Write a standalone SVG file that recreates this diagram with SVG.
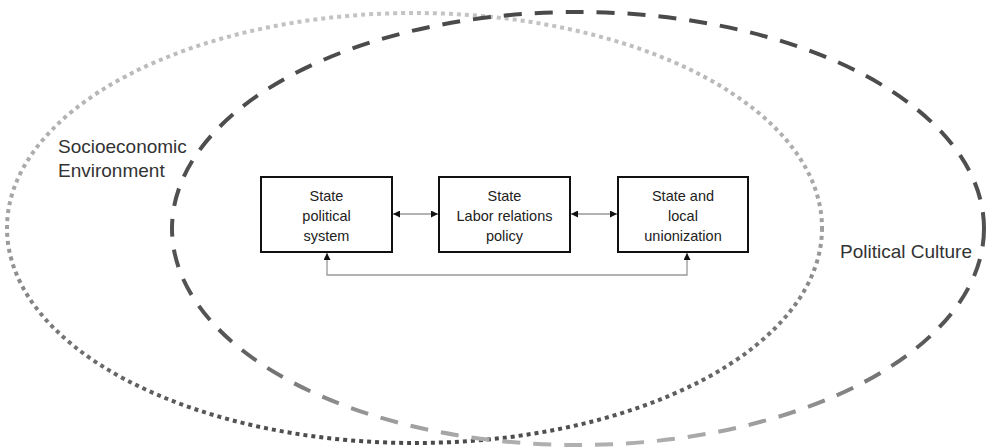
<svg xmlns="http://www.w3.org/2000/svg" width="987" height="448" viewBox="0 0 987 448">
<defs>
<linearGradient id="gDot" x1="0" y1="0" x2="0" y2="1">
<stop offset="0" stop-color="#c4c4c4"/>
<stop offset="0.5" stop-color="#a0a0a0"/>
<stop offset="1" stop-color="#4a4a4a"/>
</linearGradient>
<linearGradient id="gDash" x1="0" y1="0" x2="0" y2="1">
<stop offset="0" stop-color="#4a4a4a"/>
<stop offset="0.75" stop-color="#555555"/>
<stop offset="1" stop-color="#b0b0b0"/>
</linearGradient>
<marker id="ah" viewBox="0 0 10 10" refX="10" refY="5" markerWidth="7" markerHeight="7" markerUnits="userSpaceOnUse" orient="auto-start-reverse">
<path d="M0,0 L10,5 L0,10 z" fill="#111"/>
</marker>
<style>
.box{fill:#fff;stroke:#111;stroke-width:2}
.bt{font-family:"Liberation Sans",Arial,sans-serif;font-size:14.5px;fill:#222;text-anchor:middle}
.lbl{font-family:"Liberation Sans",Arial,sans-serif;font-size:19px;fill:#333}
.con{fill:none;stroke:#999;stroke-width:1.3}
</style>
</defs>
<rect width="987" height="448" fill="#fff"/>
<g id="socioeconomic">
<ellipse cx="414.5" cy="228" rx="407.5" ry="215" fill="none" stroke="url(#gDot)" stroke-width="4" stroke-dasharray="4 4"/>
<text class="lbl" x="58" y="153">Socioeconomic</text>
<text class="lbl" x="58" y="177">Environment</text>
</g>
<g id="political-culture">
<ellipse cx="578" cy="228.5" rx="406" ry="216.5" fill="none" stroke="url(#gDash)" stroke-width="4" stroke-dasharray="18 13"/>
<text class="lbl" x="840" y="258">Political Culture</text>
</g>
<g id="state-political-system">
<rect class="box" x="261" y="177" width="131" height="75"/>
<text class="bt" x="326.5" y="201">State</text>
<text class="bt" x="326.5" y="221">political</text>
<text class="bt" x="326.5" y="241">system</text>
</g>
<g id="labor-relations-policy">
<rect class="box" x="439" y="177" width="131" height="75"/>
<text class="bt" x="504.5" y="201">State</text>
<text class="bt" x="504.5" y="221">Labor relations</text>
<text class="bt" x="504.5" y="241">policy</text>
</g>
<g id="unionization">
<rect class="box" x="618" y="177" width="130" height="75"/>
<text class="bt" x="683" y="201">State and</text>
<text class="bt" x="683" y="221">local</text>
<text class="bt" x="683" y="241">unionization</text>
</g>
<g id="connectors">
<line class="con" x1="393" y1="214" x2="438" y2="214" marker-start="url(#ah)" marker-end="url(#ah)"/>
<line class="con" x1="571" y1="214" x2="617" y2="214" marker-start="url(#ah)" marker-end="url(#ah)"/>
<path class="con" d="M327,253 V275 H687 V253" marker-start="url(#ah)" marker-end="url(#ah)"/>
</g>
</svg>
